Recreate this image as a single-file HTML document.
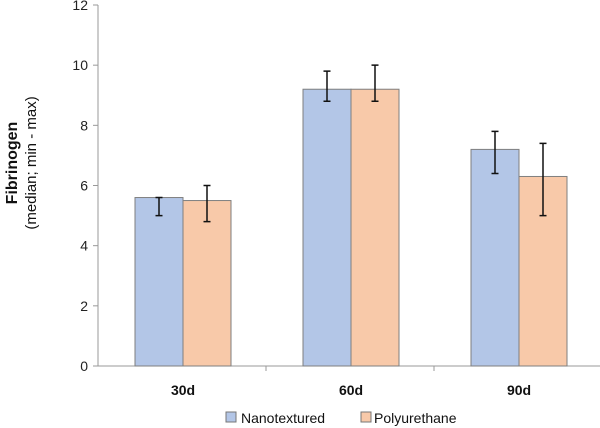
<!DOCTYPE html>
<html><head><meta charset="utf-8"><style>
body{margin:0;background:#fff;}
svg{display:block;font-family:"Liberation Sans",sans-serif;}
</style></head><body>
<svg id="chart" width="600" height="428">
<g id="axes"></g><g id="bars"></g>
<text transform="translate(17,163) rotate(-90)" text-anchor="middle" font-size="16" font-weight="bold" fill="#111">Fibrinogen</text>
<text transform="translate(36,163) rotate(-90)" text-anchor="middle" font-size="15" fill="#111">(median; min - max)</text>
<g>
<rect x="226" y="412" width="10" height="10" fill="#b3c6e7" stroke="#777"/>
<text x="241" y="423" font-size="14" fill="#111">Nanotextured</text>
<rect x="361" y="412" width="10" height="10" fill="#f8c9a9" stroke="#777"/>
<text x="374" y="423" font-size="14" fill="#111">Polyurethane</text>
</g>
</svg>
<script>
const categories=["30d","60d","90d"];
const nanoVals=[5.6,9.2,7.2];
const nanoMin=[5.0,8.8,6.4];
const nanoMax=[5.6,9.8,7.8];
const polyVals=[5.5,9.2,6.3];
const polyMin=[4.8,8.8,5.0];
const polyMax=[6.0,10.0,7.4];
const yTicks=[0,2,4,6,8,10,12];
const NS="http://www.w3.org/2000/svg";
const x0=98,catW=168,y0=366,yTop=5,yMax=12,barW=48;
function y(v){return y0-(v/yMax)*(y0-yTop);}
function xc(i){return x0+catW*i+catW/2+1;}
function mk(tag,attrs,parent){const e=document.createElementNS(NS,tag);for(const k in attrs)e.setAttribute(k,attrs[k]);parent.appendChild(e);return e;}
const axes=document.getElementById('axes'),bars=document.getElementById('bars');
let ax=mk('line',{x1:x0,y1:yTop,x2:x0,y2:y0,stroke:'#999'},axes);


let bx=mk('line',{x1:x0-5,y1:y0,x2:600,y2:y0,stroke:'#999'},axes);


yTicks.forEach(t=>{
 const l=mk('line',{x1:x0-5,y1:y(t),x2:x0,y2:y(t),stroke:'#999'},axes);
 
 
 const tx=mk('text',{x:x0-10,y:y(t)+5,'text-anchor':'end','font-size':'14',fill:'#222'},axes);
 tx.textContent=t;
 
 
});
categories.forEach((c,i)=>{
 if(i>0){const l=mk('line',{x1:x0+catW*i,y1:y0,x2:x0+catW*i,y2:y0+5,stroke:'#999'},axes);
 
 }
 const tx=mk('text',{x:xc(i),y:395,'text-anchor':'middle','font-size':'14','font-weight':'bold',fill:'#111'},axes);
 tx.textContent=c;
 
 
 const series=[[nanoVals,nanoMin,nanoMax,'#b3c6e7','nanotextured',-barW],[polyVals,polyMin,polyMax,'#f8c9a9','polyurethane',0]];
 series.forEach(s=>{
  const bxp=xc(i)+s[5];
  const r=mk('rect',{x:bxp,y:y(s[0][i]),width:barW,height:y0-y(s[0][i]),fill:s[3],stroke:'#7f7f7f','stroke-width':'1'},bars);
  
  
  const cx=bxp+barW/2,a=y(s[2][i]),b=y(s[1][i]);
  const g=mk('path',{d:`M${cx},${a}V${b}M${cx-3.5},${a}H${cx+3.5}M${cx-3.5},${b}H${cx+3.5}`,stroke:'#111','stroke-width':'1.5',fill:'none'},bars);
  
  
 });
});
</script>
</body></html>
